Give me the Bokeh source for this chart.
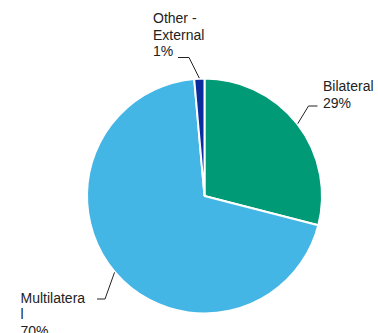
import numpy as np
from bokeh.plotting import figure
from bokeh.models import Range1d, ColumnDataSource
from bokeh.core.properties import value
from bokeh.embed import file_html
from bokeh.resources import INLINE

# ---- data ----
categories = ["Bilateral", "Multilateral", "Other - External"]
shares = [29.0, 69.6, 1.4]
pct_labels = ["29%", "70%", "1%"]
name_lines = [["Bilateral"], ["Multilatera", "l"], ["Other -", "External"]]
colors = ["#009A76", "#43B6E6", "#0A2C9C"]

# ---- layout (pixel units, y measured from top) ----
W, H = 378, 333
CX, CY_PX, R = 204, 195.5, 117.5
LINE_H = 16.5
FONT = "Liberation Sans"
FONT_SIZE = "14px"
# first-line baseline anchor of each label
text_anchor = [(322.5, 85.5), (20, 297), (152.5, 17.5)]
# leader elbow and end points
elbows = [(308, 105.5), (104.5, 298.5), (188.5, 57)]
ends = [(317, 105.5), (96.5, 298.5), (177.5, 57)]

def ty(py):
    return H - py

p = figure(width=W, height=H, x_range=Range1d(0, W), y_range=Range1d(0, H),
           output_backend="svg", toolbar_location=None, min_border=0,
           x_axis_location=None, y_axis_location=None)
p.grid.visible = False
p.outline_line_color = None
p.background_fill_color = "white"
p.border_fill_color = "white"

frac = np.array(shares) / sum(shares)
cum = np.concatenate([[0.0], np.cumsum(frac)])
start = np.pi / 2 - 2 * np.pi * cum[:-1]
end = np.pi / 2 - 2 * np.pi * cum[1:]
cy = ty(CY_PX)

src = ColumnDataSource(dict(start=start, end=end, color=colors, cat=categories))
p.wedge(x=CX, y=cy, radius=R, start_angle="start", end_angle="end",
        direction="clock", fill_color="color", line_color="white",
        line_width=2, source=src)

# leaders
mid = (start + end) / 2
for i in range(len(categories)):
    ex = CX + (R + 0.5) * np.cos(mid[i])
    ey = cy + (R + 0.5) * np.sin(mid[i])
    xs = [ex, elbows[i][0], ends[i][0]]
    ys = [ey, ty(elbows[i][1]), ty(ends[i][1])]
    p.line(xs, ys, line_color="#222222", line_width=1)

# labels
tx, tyv, tt = [], [], []
for i in range(len(categories)):
    lines = name_lines[i] + [pct_labels[i]]
    x0, y0 = text_anchor[i]
    for k, s in enumerate(lines):
        tx.append(x0)
        tyv.append(ty(y0 + k * LINE_H))
        tt.append(s)
p.text(x=tx, y=tyv, text=tt, text_font=value(FONT), text_font_size=FONT_SIZE,
       text_color="#222222", text_align="left", text_baseline="alphabetic")

open("out.html", "w").write(file_html(p, INLINE))
